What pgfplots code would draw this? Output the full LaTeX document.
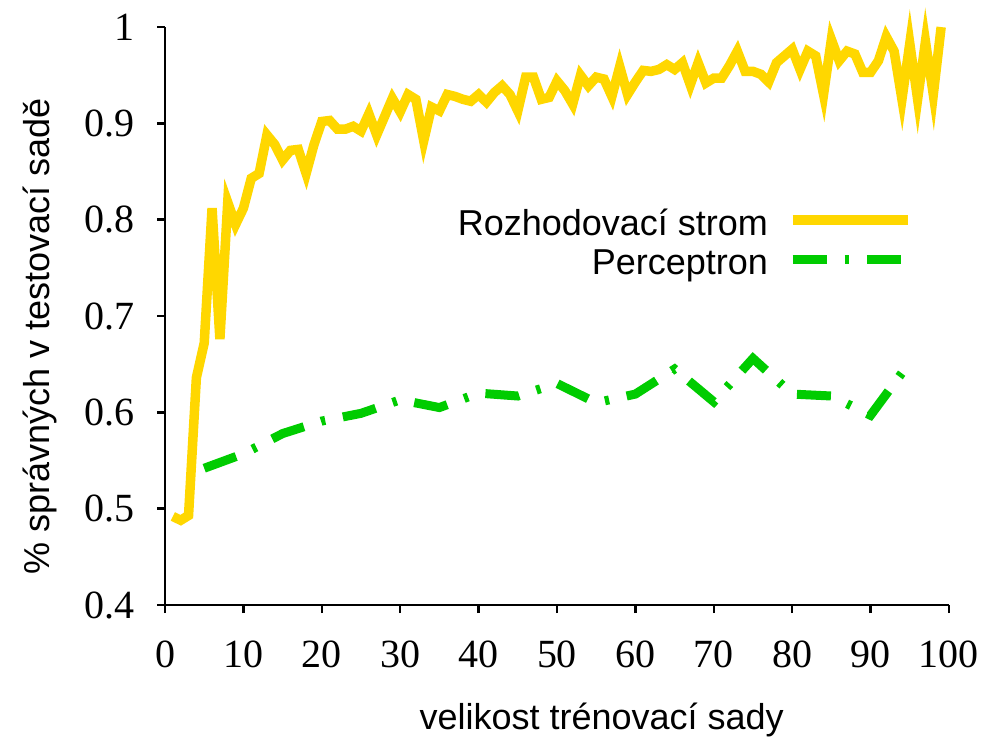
\documentclass[border=0pt]{standalone}
\usepackage{fontspec}
\setmainfont{Liberation Sans}
\newfontfamily\tickfont{Liberation Serif}
\usepackage{pgfplots}
\pgfplotsset{compat=1.18}
\definecolor{treegold}{RGB}{255,215,0}
\definecolor{percgreen}{RGB}{0,204,0}

\begin{document}
\begin{tikzpicture}
\begin{axis}[
    scale only axis,
    width=313.6pt, height=231.2pt,
    xmin=0, xmax=100, ymin=0.4, ymax=1,
    axis x line*=bottom, axis y line*=left,
    axis line style={line width=1.1pt, -},
    xtick={0,10,20,30,40,50,60,70,80,90,100},
    ytick={0.4,0.5,0.6,0.7,0.8,0.9,1},
    tick align=outside,
    major tick length=3.2pt,
    tick style={line width=1pt, black},
    /pgf/number format/assume math mode=true,
    tick label style={font=\fontsize{16}{16}\selectfont\tickfont},
    yticklabel style={inner sep=0pt, anchor=east, xshift=-8.8pt},
    xticklabel style={inner sep=0pt, anchor=north, yshift=-10.8pt},
    xlabel={velikost trénovací sady},
    ylabel={\% správných v testovací sadě},
    every axis x label/.style={at={(axis description cs:0.557,0)}, anchor=center,
        yshift=-46pt, font=\fontsize{14.4}{14.4}\selectfont},
    every axis y label/.style={at={(axis description cs:-0.159,0.465)}, anchor=center,
        rotate=90, font=\fontsize{14.4}{14.4}\selectfont},
    clip=false,
    line join=miter,
    legend plot pos=right,
    legend cell align=right,
    legend image code/.code={\draw[#1] (0pt,1.8pt) -- (46pt,1.8pt);},
    legend style={draw=none, fill=none, inner sep=0pt, at={(0.954,0.694)}, anchor=north east,
        font=\fontsize{14.4}{14.4}\selectfont, row sep=0pt,
        /tikz/every odd column/.append style={column sep=6pt}},
]

% Rozhodovaci strom
\addplot[treegold, line width=3.8pt] coordinates {
    (1,0.492) (2,0.488) (3,0.493) (4,0.636) (5,0.672) (6,0.812) (7,0.676) (8,0.818) (9,0.795) (10,0.812)
    (11,0.843) (12,0.848) (13,0.888) (14,0.878) (15,0.862) (16,0.872) (17,0.873) (18,0.848) (19,0.878) (20,0.902)
    (21,0.903) (22,0.894) (23,0.894) (24,0.897) (25,0.892) (26,0.910) (27,0.888) (28,0.907) (29,0.926) (30,0.912)
    (31,0.930) (32,0.925) (33,0.882) (34,0.917) (35,0.913) (36,0.930) (37,0.928) (38,0.925) (39,0.923) (40,0.930)
    (41,0.922) (42,0.932) (43,0.939) (44,0.930) (45,0.913) (46,0.948) (47,0.948) (48,0.925) (49,0.927) (50,0.944)
    (51,0.934) (52,0.920) (53,0.950) (54,0.939) (55,0.948) (56,0.946) (57,0.928) (58,0.959) (59,0.930) (60,0.943)
    (61,0.955) (62,0.954) (63,0.956) (64,0.961) (65,0.956) (66,0.963) (67,0.940) (68,0.963) (69,0.942) (70,0.947)
    (71,0.947) (72,0.960) (73,0.975) (74,0.954) (75,0.954) (76,0.951) (77,0.943) (78,0.963) (79,0.970) (80,0.977)
    (81,0.956) (82,0.975) (83,0.970) (84,0.930) (85,0.987) (86,0.965) (87,0.975) (88,0.972) (89,0.953) (90,0.953)
    (91,0.965) (92,0.990) (93,0.975) (94,0.925) (95,0.983) (96,0.925) (97,0.985) (98,0.930) (99,1.000)
};
\addlegendentry{Rozhodovací strom}

% Perceptron
\addplot[percgreen, line width=3.6pt, dash pattern=on 13.6pt off 7.2pt on 1.7pt off 7.2pt] coordinates {
    (5,0.542) (10,0.557) (15,0.578) (20,0.591) (25,0.599) (30,0.613) (35,0.605) (40,0.620) (45,0.617) (50,0.630)
    (55,0.610) (60,0.619) (65,0.645) (70,0.611) (75,0.656) (80,0.619) (85,0.617) (90,0.597) (95,0.652)
};
\addlegendentry{Perceptron}

% frame of the page, as in the reference
\coordinate (bbsw) at (axis cs:-21.05,0.2588);
\coordinate (bbne) at (axis cs:106.51,1.0281);
\end{axis}
\pgfresetboundingbox
\path[use as bounding box] (bbsw) rectangle (bbne);
\end{tikzpicture}
\end{document}
